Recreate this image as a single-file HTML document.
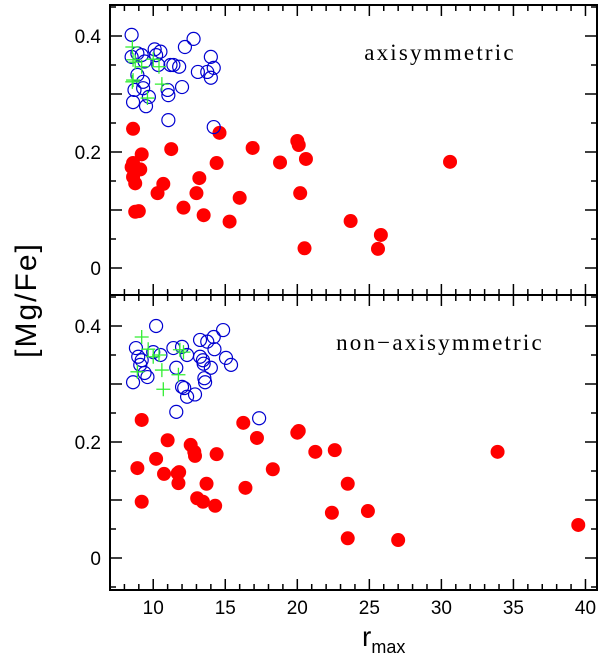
<!DOCTYPE html>
<html><head><meta charset="utf-8"><style>
body{margin:0;background:#fff;}
svg{display:block;font-family:"Liberation Sans",sans-serif;}
</style></head><body>
<svg id="chart" width="600" height="660" xmlns="http://www.w3.org/2000/svg"></svg>
<script>
const topRedR=[8.6,8.6,8.5,8.6,8.75,9.1,9.2,8.75,9.0,10.3,10.7,11.25,12.1,13.0,13.2,13.5,14.4,14.6,15.3,16.0,16.9,18.8,20.0,20.1,20.2,20.6,20.5,23.7,25.6,25.8,30.6];
const topRedV=[0.240,0.181,0.174,0.157,0.146,0.170,0.196,0.097,0.098,0.129,0.145,0.205,0.104,0.129,0.155,0.091,0.181,0.233,0.080,0.121,0.207,0.182,0.219,0.212,0.129,0.188,0.034,0.081,0.033,0.057,0.183];
const topBlueR=[8.5,8.5,8.6,8.7,8.9,8.9,9.2,9.3,9.3,9.4,9.5,9.7,10.1,10.2,10.5,10.35,11.0,11.05,11.05,11.2,11.4,11.8,12.0,12.2,12.8,13.1,13.75,14.0,14.0,14.2,14.2];
const topBlueV=[0.402,0.364,0.286,0.307,0.370,0.333,0.367,0.321,0.310,0.356,0.279,0.295,0.377,0.367,0.373,0.350,0.307,0.298,0.255,0.350,0.350,0.347,0.312,0.381,0.395,0.338,0.338,0.364,0.328,0.345,0.243];
const topGreenR=[8.55,8.6,8.75,8.6,8.55,9.2,9.6,10.0,10.4,10.6];
const topGreenV=[0.381,0.359,0.355,0.324,0.321,0.347,0.293,0.360,0.347,0.317];
const botRedR=[9.2,8.9,9.2,10.2,10.75,11.0,11.7,11.8,11.75,12.6,12.85,12.9,13.05,13.45,13.7,14.3,14.4,16.25,16.4,17.2,18.3,20.0,20.1,21.25,22.4,22.6,23.5,23.5,24.9,27.0,33.9,39.5];
const botRedV=[0.238,0.155,0.097,0.171,0.145,0.203,0.146,0.148,0.129,0.195,0.183,0.176,0.103,0.097,0.128,0.090,0.179,0.233,0.121,0.207,0.153,0.216,0.219,0.183,0.078,0.186,0.128,0.034,0.081,0.031,0.183,0.057];
const botBlueR=[10.2,8.8,8.6,8.96,9.2,9.1,9.4,9.6,10.0,10.5,11.4,11.6,11.6,12.0,12.0,12.15,12.35,12.35,12.9,13.25,13.25,13.45,13.5,13.55,13.6,14.0,13.75,14.2,14.25,14.85,15.05,15.4,17.35];
const botBlueV=[0.400,0.362,0.303,0.347,0.341,0.333,0.319,0.312,0.355,0.350,0.362,0.328,0.252,0.364,0.295,0.293,0.350,0.278,0.282,0.376,0.347,0.341,0.335,0.310,0.303,0.328,0.373,0.381,0.360,0.393,0.345,0.333,0.241];
const botGreenR=[9.2,8.9,9.65,10.0,10.4,10.6,10.7,11.75,11.85,12.1];
const botGreenV=[0.381,0.321,0.360,0.347,0.350,0.324,0.291,0.316,0.359,0.355];
const xTicks=[10,15,20,25,30,35,40];
const yTicks=[0,0.2,0.4];

const NS="http://www.w3.org/2000/svg";
const svg=document.getElementById('chart');
function mk(t,a,p){const e=document.createElementNS(NS,t);for(const k in a)e.setAttribute(k,a[k]);(p||svg).appendChild(e);return e;}
const L=110,R=597,XMIN=7,XMAX=40.8;
const X=r=>L+(r-XMIN)/(XMAX-XMIN)*(R-L);
const panels=[
 {top:5,bot:295,y0:268,label:'axisymmetric',lx:440,name:'top-panel',red:[topRedR,topRedV],blue:[topBlueR,topBlueV],green:[topGreenR,topGreenV]},
 {top:295,bot:590,y0:558,label:'non\u2212axisymmetric',lx:440,name:'bottom-panel',red:[botRedR,botRedV],blue:[botBlueR,botBlueV],green:[botGreenR,botGreenV]}
];
panels.forEach((p,pi)=>{
 const g=mk('g',{});
 
 
 const Y=v=>p.y0-v*580;
 for(let r=8;r<=40;r++){const len=r%5===0?11:6;const x=X(r);
  mk('line',{x1:x,x2:x,y1:p.bot,y2:p.bot-len,stroke:'#000','stroke-width':1.5},g);
  mk('line',{x1:x,x2:x,y1:p.top,y2:p.top+len,stroke:'#000','stroke-width':1.5},g);}
 for(let k=0;k<=4;k++){const v=k*0.1;const y=Y(v);
  mk('line',{x1:L,x2:L+12,y1:y,y2:y,stroke:'#000','stroke-width':1.5},g);
  mk('line',{x1:R,x2:R-12,y1:y,y2:y,stroke:'#000','stroke-width':1.5},g);}
 for(let k=0;k<9;k++){const v=-0.05+k*0.1;const y=Y(v);if(y<p.top||y>p.bot)continue;
  mk('line',{x1:L,x2:L+6,y1:y,y2:y,stroke:'#000','stroke-width':1.5},g);
  mk('line',{x1:R,x2:R-6,y1:y,y2:y,stroke:'#000','stroke-width':1.5},g);}
 yTicks.forEach(v=>{const t=mk('text',{x:101,y:Y(v)+7,'text-anchor':'end','font-size':19},g);t.textContent=v===0?'0':String(v);
  
  });
 const lab=mk('text',{x:p.lx,y:p.top+55,'text-anchor':'middle','font-size':23,'font-family':'Liberation Serif, serif','letter-spacing':'2.2'},g);
 lab.textContent=p.label;
 
 
 p.red[0].forEach((r,i)=>{const c=mk('circle',{cx:X(r),cy:Y(p.red[1][i]),r:7,fill:'#f00'},g);
  
  });
 p.blue[0].forEach((r,i)=>{const c=mk('circle',{cx:X(r),cy:Y(p.blue[1][i]),r:6.5,fill:'none',stroke:'#0000d0','stroke-width':1.2},g);
  
  });
 p.green[0].forEach((r,i)=>{const x=X(r),y=Y(p.green[1][i]);
  const e=mk('path',{d:`M${x-7},${y}H${x+7}M${x},${y-7}V${y+7}`,stroke:'#33ee33','stroke-width':1.3,fill:'none'},g);
  
  });
 const f=mk('rect',{x:L,y:p.top,width:R-L,height:p.bot-p.top,fill:'none',stroke:'#000','stroke-width':2},g);
 
 
});
xTicks.forEach(v=>{const t=mk('text',{x:X(v),y:614,'text-anchor':'middle','font-size':19});t.textContent=v;
 
 });
const xt=mk('text',{x:362,y:646,'font-size':28});
xt.innerHTML='r<tspan font-size="18" dy="7">max</tspan>';


const yt=mk('text',{x:0,y:0,'font-size':30,'text-anchor':'middle','letter-spacing':'2',transform:'translate(36,300) rotate(-90)'});
yt.textContent='[Mg/Fe]';


</script>
</body></html>
